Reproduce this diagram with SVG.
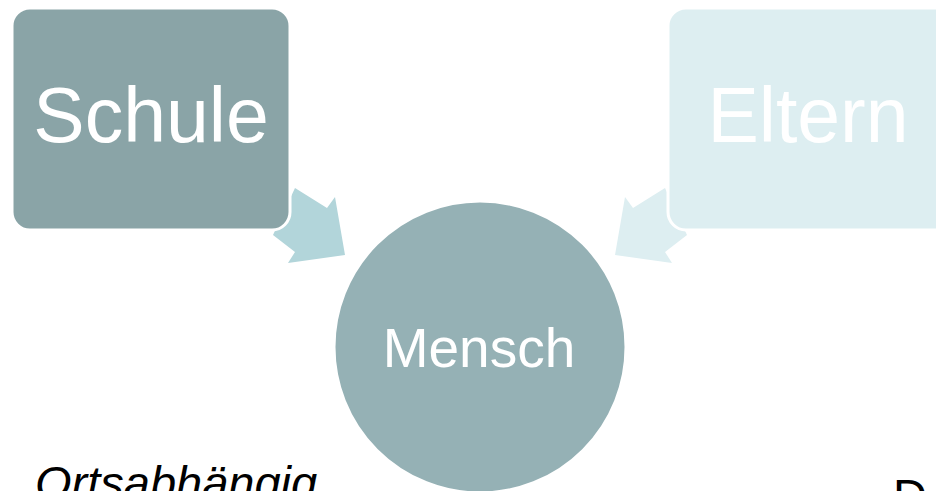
<svg xmlns="http://www.w3.org/2000/svg" width="936" height="491" viewBox="0 0 936 491">
<style>
.lbl{font-family:"Liberation Sans",Arial,sans-serif;fill:#ffffff;text-anchor:middle}
.body{font-family:"Liberation Sans",Arial,sans-serif;fill:#000000}
</style>
<rect width="936" height="491" fill="#ffffff"/>
<g id="connectors">
<polygon points="295,188 327,208 335,197 345,255 288,263 295,252 273,235" fill="#B2D5DA"/>
<polygon points="665,188 633,208 625,197 615,255 672,263 665,252 687,235" fill="#DDEEF1"/>
</g>
<g id="schule">
<rect x="12" y="8" width="278" height="222" rx="18" fill="#8AA4A7" stroke="#ffffff" stroke-width="3"/>
<text class="lbl" x="151" y="142" font-size="77">Schule</text>
</g>
<g id="eltern">
<rect x="668" y="8" width="290" height="222" rx="18" fill="#DDEEF1" stroke="#ffffff" stroke-width="3"/>
<text class="lbl" x="808" y="142" font-size="77">Eltern</text>
</g>
<g id="mensch">
<circle cx="480" cy="347" r="146" fill="#95B1B5" stroke="#ffffff" stroke-width="3"/>
<text class="lbl" x="479" y="367" font-size="55">Mensch</text>
</g>
<text class="body" x="35" y="499" font-size="47" font-style="italic">Ortsabhängig</text>
<text class="body" x="893" y="512" font-size="47">D</text>
</svg>
